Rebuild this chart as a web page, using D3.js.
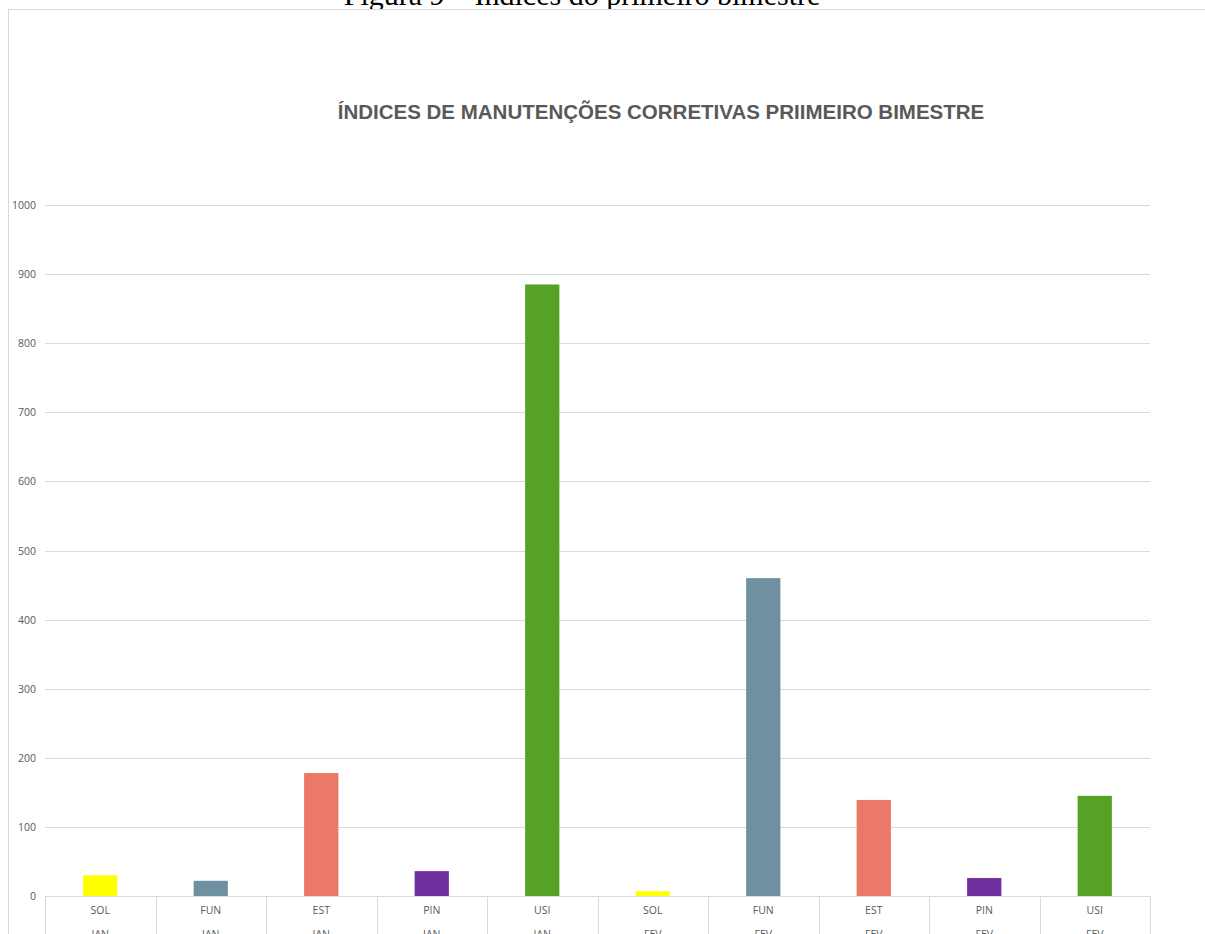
<!DOCTYPE html>
<html>
<head>
<meta charset="utf-8">
<script src="https://cdn.jsdelivr.net/npm/d3@7"></script>
<style>
  body { margin: 0; background: #fff; }
</style>
</head>
<body>
<script>
// chart data
var categories = ["SOL", "FUN", "EST", "PIN", "USI", "SOL", "FUN", "EST", "PIN", "USI"];
var months = ["JAN", "JAN", "JAN", "JAN", "JAN", "FEV", "FEV", "FEV", "FEV", "FEV"];
var values = [30, 22, 178, 36, 885, 7, 460, 139, 26, 145];
var yTicks = [0, 100, 200, 300, 400, 500, 600, 700, 800, 900, 1000];

var colors = {SOL: "#FFFF00", FUN: "#6F90A0", EST: "#EC7867", PIN: "#7030A0", USI: "#55A225"};

var width = 1205, height = 934;

var svg = d3.select("body")
    .append("svg")
        .attr("width", width)
        .attr("height", height);

// caption above the chart (cut off at top)
svg.append("text")
    .text("Figura 9 – Índices do primeiro bimestre")
    .attr("x", 582)
    .attr("y", 5)
    .attr("text-anchor", "middle")
    .attr("font-family", "Liberation Serif, Times New Roman, serif")
    .attr("font-size", "30px")
    .style("fill", "#000");

// chart frame
svg.append("rect")
    .attr("x", 8.5)
    .attr("y", 9.5)
    .attr("width", 1210)
    .attr("height", 940)
    .style("fill", "#fff")
    .style("stroke", "#d9d9d9");

svg.append("text")
    .text("ÍNDICES DE MANUTENÇÕES CORRETIVAS PRIIMEIRO BIMESTRE")
    .attr("x", 661)
    .attr("y", 119)
    .attr("text-anchor", "middle")
    .attr("font-family", "Liberation Sans, Arial, sans-serif")
    .attr("font-weight", "bold")
    .attr("font-size", "20.5px")
    .style("fill", "#595959");

var x = d3.scaleBand()
    .domain(d3.range(categories.length))
    .range([45, 1150])
    .paddingInner(0)
    .paddingOuter(0);

var y = d3.scaleLinear()
    .domain([0, 1000])
    .range([896, 205]);

var g = svg.append("g");

// gridlines
g.selectAll(".grid")
    .data(yTicks.filter(function(d){ return d > 0; }))
    .enter().append("line")
        .attr("x1", 45)
        .attr("x2", 1150)
        .attr("y1", function(d){ return Math.round(y(d)) + 0.5; })
        .attr("y2", function(d){ return Math.round(y(d)) + 0.5; })
        .style("stroke", "#d9d9d9")
        .style("stroke-width", "1px");

// y labels
g.selectAll(".ylab")
    .data(yTicks)
    .enter().append("text")
        .text(function(d){ return d; })
        .attr("x", 36)
        .attr("y", function(d){ return y(d) + 4; })
        .attr("text-anchor", "end")
        .attr("font-family", "Open Sans, DejaVu Sans, sans-serif")
        .attr("font-size", "10.5px")
        .style("fill", "#595959");

// bars
var bw = x.bandwidth() * 0.31;
g.selectAll(".bar")
    .data(values)
    .enter().append("rect")
        .attr("x", function(d, i){ return x(i) + (x.bandwidth() - bw) / 2; })
        .attr("y", function(d){ return y(d); })
        .attr("width", bw)
        .attr("height", function(d){ return y(0) - y(d); })
        .style("fill", function(d, i){ return colors[categories[i]]; });

// x axis baseline and category separators
g.append("line")
    .attr("x1", 45).attr("x2", 1150)
    .attr("y1", 896.5).attr("y2", 896.5)
    .style("stroke", "#d9d9d9");

g.selectAll(".sep")
    .data(d3.range(categories.length + 1))
    .enter().append("line")
        .attr("x1", function(i){ return Math.round(i < categories.length ? x(i) : x.range()[1]) + 0.5; })
        .attr("x2", function(i){ return Math.round(i < categories.length ? x(i) : x.range()[1]) + 0.5; })
        .attr("y1", 896)
        .attr("y2", 950)
        .style("stroke", "#d9d9d9");

g.selectAll(".xlab")
    .data(categories)
    .enter().append("text")
        .text(function(d){ return d; })
        .attr("x", function(d, i){ return x(i) + x.bandwidth() / 2; })
        .attr("y", 914)
        .attr("text-anchor", "middle")
        .attr("font-family", "Open Sans, DejaVu Sans, sans-serif")
        .attr("font-size", "10.5px")
        .style("fill", "#595959");

g.selectAll(".mlab")
    .data(months)
    .enter().append("text")
        .text(function(d){ return d; })
        .attr("x", function(d, i){ return x(i) + x.bandwidth() / 2; })
        .attr("y", 938)
        .attr("text-anchor", "middle")
        .attr("font-family", "Open Sans, DejaVu Sans, sans-serif")
        .attr("font-size", "10.5px")
        .style("fill", "#595959");
</script>
</body>
</html>
